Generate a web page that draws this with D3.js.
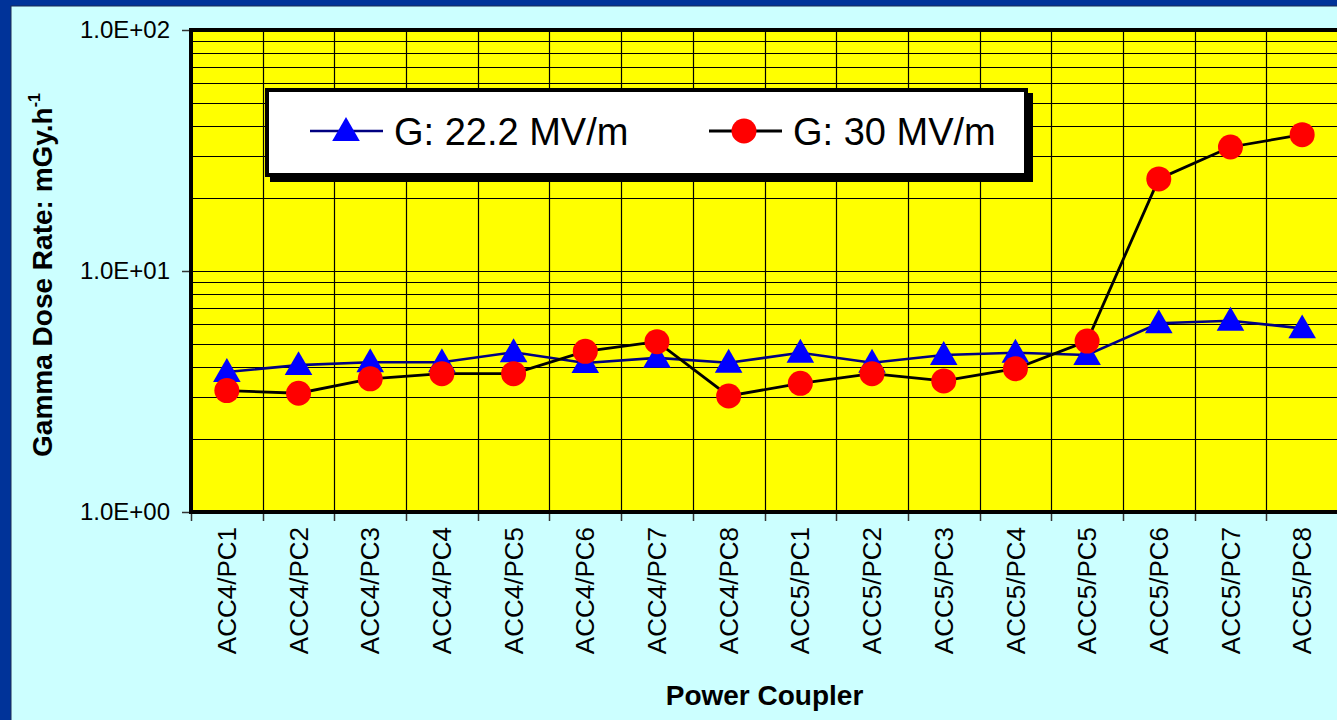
<!DOCTYPE html>
<html>
<head>
<meta charset="utf-8">
<script src="https://cdn.jsdelivr.net/npm/d3@7/dist/d3.min.js"></script>
<style>
html,body{margin:0;padding:0;overflow:hidden;background:#003399;}
svg{display:block;font-family:Arial,"Liberation Sans",sans-serif;}
</style>
</head>
<body>
<svg id="chart" width="1337" height="720"></svg>
<script>
const categories = ["ACC4/PC1","ACC4/PC2","ACC4/PC3","ACC4/PC4","ACC4/PC5","ACC4/PC6","ACC4/PC7","ACC4/PC8",
                    "ACC5/PC1","ACC5/PC2","ACC5/PC3","ACC5/PC4","ACC5/PC5","ACC5/PC6","ACC5/PC7","ACC5/PC8"];
const g222 = [3.81,4.07,4.18,4.18,4.60,4.15,4.36,4.16,4.58,4.16,4.48,4.58,4.48,6.07,6.22,5.78];
const g30  = [3.19,3.11,3.57,3.75,3.75,4.64,5.09,3.03,3.42,3.75,3.50,3.93,5.12,24.1,32.7,36.8];
const yTickValues = [1,10,100];
const yTickLabels = ["1.0E+00","1.0E+01","1.0E+02"];
const seriesNames = ["G: 22.2 MV/m","G: 30 MV/m"];

const svg = d3.select("#chart");
const W = 1337, H = 720;
const plot = {left:191, top:30, right:1338, bottom:512};

// frame
svg.append("rect").attr("x",0).attr("y",0).attr("width",W).attr("height",H).attr("fill","#003399");
svg.append("rect").attr("x",11).attr("y",6).attr("width",W).attr("height",H)
   .attr("fill","#CCFFFF").attr("stroke","#1a2a55").attr("stroke-width",1);

const x = d3.scaleBand().domain(categories).range([plot.left, plot.right]).padding(0);
const y = d3.scaleLog().domain([1,100]).range([plot.bottom, plot.top]);

// plot area
svg.append("rect").attr("x",plot.left).attr("y",plot.top)
   .attr("width",plot.right-plot.left).attr("height",plot.bottom-plot.top).attr("fill","#FFFF00");

// horizontal gridlines (minor + major)
const gridVals = [];
for (let d=1; d<100; d*=10) for (let k=2; k<=10; k++) gridVals.push(d*k);
svg.append("g").selectAll("line").data(gridVals).join("line")
   .attr("x1",plot.left).attr("x2",plot.right)
   .attr("y1",d=>Math.round(y(d))+0.5).attr("y2",d=>Math.round(y(d))+0.5)
   .attr("stroke","#000").attr("stroke-width",1.2);

// vertical gridlines at category boundaries
const bounds = categories.map(c=>x(c)).concat([plot.right]);
svg.append("g").selectAll("line").data(bounds.slice(1)).join("line")
   .attr("x1",d=>Math.round(d)+0.5).attr("x2",d=>Math.round(d)+0.5)
   .attr("y1",plot.top).attr("y2",plot.bottom)
   .attr("stroke","#000").attr("stroke-width",1.2);

// axes
const yAxis = d3.axisLeft(y).tickValues(yTickValues).tickFormat((d,i)=>yTickLabels[i]).tickSize(7).tickPadding(12);
const gy = svg.append("g").attr("transform",`translate(${plot.left-2},0)`).call(yAxis);
gy.select(".domain").remove();
gy.selectAll(".tick line").attr("stroke","#333").attr("stroke-width",1.5);
gy.selectAll(".tick text").attr("font-size",24).attr("fill","#000").attr("font-family","Arial, 'Liberation Sans', sans-serif");

const xAxis = d3.axisBottom(x).tickSize(0).tickFormat(d=>d);
const gx = svg.append("g").attr("transform",`translate(0,${plot.bottom})`).call(xAxis);
gx.select(".domain").remove();
gx.selectAll(".tick text")
  .attr("font-size",26).attr("fill","#000").attr("font-family","Arial, 'Liberation Sans', sans-serif")
  .attr("text-anchor","end").attr("transform","rotate(-90)")
  .attr("x",-15).attr("y",0).attr("dy","0.35em");

// x boundary ticks
svg.append("g").selectAll("line").data(bounds).join("line")
   .attr("x1",d=>Math.round(d)+0.5).attr("x2",d=>Math.round(d)+0.5)
   .attr("y1",plot.bottom).attr("y2",plot.bottom+9)
   .attr("stroke","#333").attr("stroke-width",1.5);

// thick plot borders
svg.append("line").attr("x1",plot.left).attr("x2",plot.left).attr("y1",plot.top-2).attr("y2",plot.bottom+2)
   .attr("stroke","#000").attr("stroke-width",4);
svg.append("line").attr("x1",plot.left-2).attr("x2",plot.right).attr("y1",plot.bottom).attr("y2",plot.bottom)
   .attr("stroke","#000").attr("stroke-width",4);
svg.append("line").attr("x1",plot.left-2).attr("x2",plot.right).attr("y1",plot.top).attr("y2",plot.top)
   .attr("stroke","#000").attr("stroke-width",4);

// series
const cx = c => x(c) + x.bandwidth()/2;
const line1 = d3.line().x((d,i)=>cx(categories[i])).y(d=>y(d));
const triangle = d3.symbol().type(d3.symbolTriangle).size(330);

svg.append("path").datum(g222).attr("d",line1).attr("fill","none").attr("stroke","#000080").attr("stroke-width",2.6);
svg.append("path").datum(g30).attr("d",line1).attr("fill","none").attr("stroke","#000").attr("stroke-width",2.8);

svg.append("g").selectAll("path").data(g222).join("path")
   .attr("d",triangle)
   .attr("transform",(d,i)=>`translate(${cx(categories[i])},${y(d)+2})`)
   .attr("fill","#0000FF");
svg.append("g").selectAll("circle").data(g30).join("circle")
   .attr("cx",(d,i)=>cx(categories[i])).attr("cy",d=>y(d)).attr("r",12.5)
   .attr("fill","#FF0000");

// legend
const lg = svg.append("g");
lg.append("rect").attr("x",270).attr("y",93).attr("width",763).attr("height",89).attr("fill","#000");
lg.append("rect").attr("x",267).attr("y",90).attr("width",759).attr("height",85)
  .attr("fill","#FFFFFF").attr("stroke","#000").attr("stroke-width",4);
const ly = 131;
lg.append("line").attr("x1",310).attr("x2",383).attr("y1",ly).attr("y2",ly).attr("stroke","#000080").attr("stroke-width",2.6);
lg.append("path").attr("d",triangle).attr("transform",`translate(346,${ly+2})`).attr("fill","#0000FF");
lg.append("text").attr("x",394).attr("y",ly).attr("dy","0.36em").attr("font-size",38).text(seriesNames[0]);
lg.append("line").attr("x1",709).attr("x2",782).attr("y1",ly).attr("y2",ly).attr("stroke","#000").attr("stroke-width",2.8);
lg.append("circle").attr("cx",744).attr("cy",ly).attr("r",12.5).attr("fill","#FF0000");
lg.append("text").attr("x",793).attr("y",ly).attr("dy","0.36em").attr("font-size",38).text(seriesNames[1]);

// axis titles
svg.append("text").attr("x",(plot.left+plot.right)/2).attr("y",705)
   .attr("text-anchor","middle").attr("font-size",28).attr("font-weight","bold").text("Power Coupler");
const yt = svg.append("text").attr("transform","translate(52,275) rotate(-90)")
   .attr("text-anchor","middle").attr("font-size",28).attr("font-weight","bold");
yt.append("tspan").text("Gamma Dose Rate: mGy.h");
yt.append("tspan").attr("font-size",16).attr("dy",-12).text("-1");
</script>
</body>
</html>
